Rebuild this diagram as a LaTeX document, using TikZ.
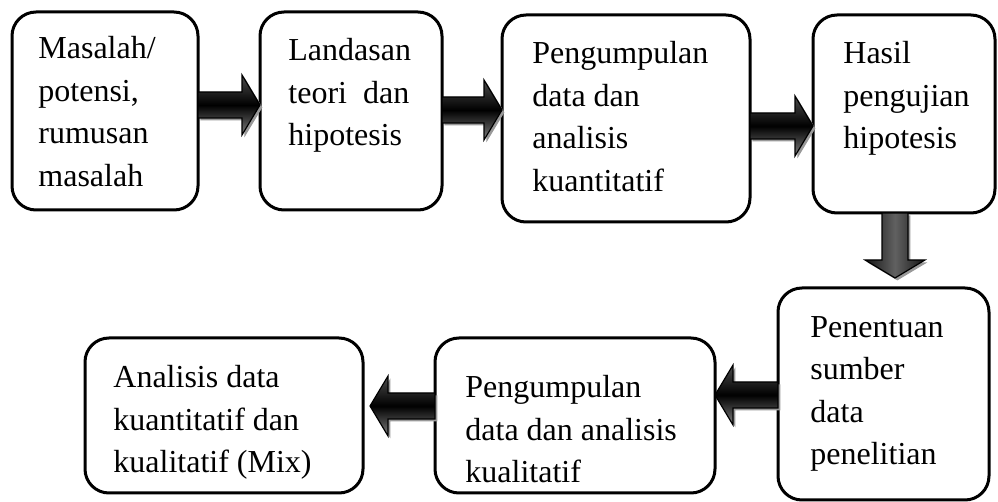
\documentclass[tikz,border=0pt]{standalone}
\usepackage{fontspec}
\setmainfont{Liberation Serif}
\usetikzlibrary{calc,shadows}

\begin{document}
\begin{tikzpicture}
\begin{scope}
\tikzstyle{box} = [rectangle,draw,anchor=north west,outer sep=0pt,rounded corners=12pt,line width=1.5pt]
\tikzstyle{txt} = [anchor=north west,inner sep=0pt,align=left,font=\fontsize{16pt}{21.25pt}\selectfont]
\tikzstyle{blockarrow} = [draw,line width=0.6pt,drop shadow={opacity=1,fill=black!40,shadow xshift=1.2pt,shadow yshift=-1.2pt},
  to path={($(\tikztostart)!6.5pt!90:(\tikztotarget)$) -- ($(\tikztotarget)!9pt!(\tikztostart)!6.5pt!-90:(\tikztostart)$)
  -- ($(\tikztotarget)!9pt!(\tikztostart)!15pt!-90:(\tikztostart)$) -- (\tikztotarget)
  -- ($(\tikztotarget)!9pt!(\tikztostart)!15pt!90:(\tikztostart)$) -- ($(\tikztotarget)!9pt!(\tikztostart)!6.5pt!90:(\tikztostart)$)
  -- ($(\tikztostart)!6.5pt!-90:(\tikztotarget)$) -- cycle}]
\tikzstyle{harrow} = [blockarrow,top color=black!70,bottom color=black!50,middle color=black]
\tikzstyle{varrow} = [blockarrow,left color=black!92,right color=black!92,middle color=black!62]

\useasboundingbox (0,0) rectangle (499pt,-251pt);

% top row
\node [box,minimum width=93pt,minimum height=99pt] (masalah) at (6pt,-6pt) {};
\node [box,minimum width=91pt,minimum height=99pt] (teori) at (130pt,-6pt) {};
\node [box,minimum width=124pt,minimum height=103.5pt] (kuan) at (251pt,-7.5pt) {};
\node [box,minimum width=91pt,minimum height=99pt] (hasil) at (406.5pt,-7.5pt) {};

\node [txt] (masalahtxt) at ([xshift=13pt,yshift=-12pt]masalah.north west) {Masalah/\\potensi,\\rumusan\\masalah};
\node [txt] (teoritxt) at ([xshift=14pt,yshift=-13pt]teori.north west) {Landasan\\teori\ \ dan\\hipotesis};
\node [txt] (kuantxt) at ([xshift=15pt,yshift=-13pt]kuan.north west) {Pengumpulan\\data dan\\analisis\\kuantitatif};
\node [txt] (hasiltxt) at ([xshift=15pt,yshift=-13pt]hasil.north west) {Hasil\\pengujian\\hipotesis};

% bottom row
\node [box,minimum width=105.5pt,minimum height=106pt] (sumber) at (389pt,-144pt) {};
\node [box,minimum width=140pt,minimum height=77.5pt] (kual) at (217.5pt,-169pt) {};
\node [box,minimum width=139pt,minimum height=77.5pt] (mix) at (42.5pt,-169pt) {};

\node [txt] (sumbertxt) at ([xshift=16pt,yshift=-14pt]sumber.north west) {Penentuan\\sumber\\data\\penelitian};
\node [txt] (kualtxt) at ([xshift=15pt,yshift=-18.5pt]kual.north west) {Pengumpulan\\data dan analisis\\kualitatif};
\node [txt] (mixtxt) at ([xshift=14pt,yshift=-13.5pt]mix.north west) {Analisis data\\kuantitatif dan\\kualitatif (Mix)};

% arrows
\draw [harrow] ([yshift=3pt]masalah.east) to ([yshift=3pt]teori.west);
\draw [harrow] ([yshift=0.5pt]teori.east) to ([yshift=4.25pt]kuan.west);
\draw [harrow] ([yshift=-3.75pt]kuan.east) to ([yshift=-6pt]hasil.west);
\draw [varrow] ([xshift=-4.5pt]hasil.south) to ([xshift=5.75pt,yshift=5pt]sumber.north);
\draw [harrow] ([yshift=-0.5pt]sumber.west) to ([yshift=10.25pt]kual.east);
\draw [harrow] ([yshift=4.75pt]kual.west) to ([xshift=3.5pt,yshift=4.75pt]mix.east);
\end{scope}
\end{tikzpicture}
\end{document}
